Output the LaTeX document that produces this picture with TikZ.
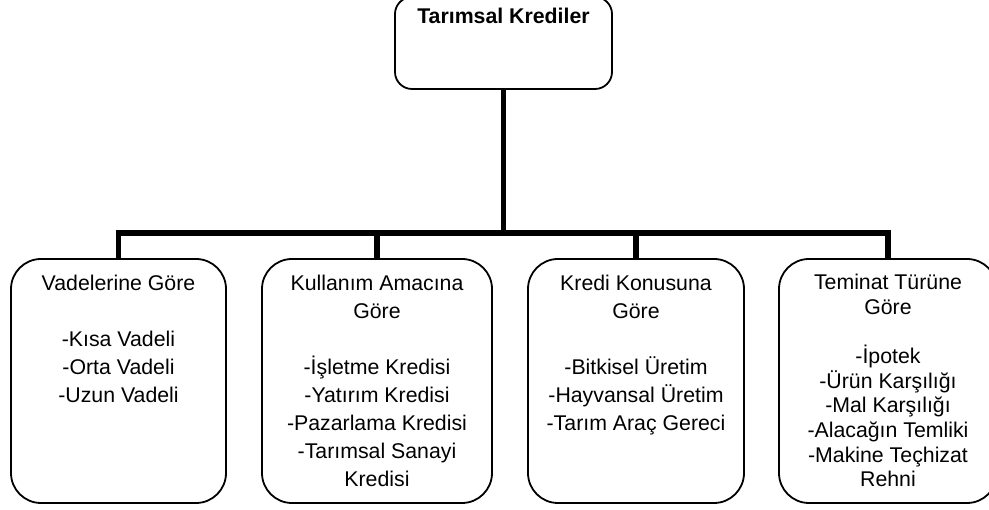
\documentclass[tikz,border=0pt]{standalone}
\usepackage{fontspec}
\setmainfont{Liberation Sans}
\newcommand{\lns}[1]{\vtop{\halign{\hfil##\hfil\cr#1\crcr}}}
\begin{document}
\begin{tikzpicture}[x=1pt,y=-1pt,
  box/.style={draw, line width=1.8pt, rounded corners=30pt, inner sep=0pt, fill=white},
  topbox/.style={box, rounded corners=17pt},
  conn/.style={line width=5.5pt},
  txt/.style={anchor=base, inner sep=0pt, font=\fontsize{21.3}{28}\selectfont},
  txtb/.style={txt, font=\fontsize{21.3}{24.6}\selectfont}]
\useasboundingbox (0,0) rectangle (989,510);
\fill[white] (0,0) rectangle (989,510);
\begin{scope}
\clip (0,0) rectangle (989,510);
\node[topbox, minimum width=217pt, minimum height=92pt] (top) at (503.5,43) {};
\node[box, minimum width=215pt, minimum height=244pt] (b1) at (118.5,381) {};
\node[box, minimum width=230pt, minimum height=244pt] (b2) at (377,381) {};
\node[box, minimum width=216pt, minimum height=244pt] (b3) at (636,381) {};
\node[box, minimum width=218pt, minimum height=244pt] (b4) at (888,381) {};
\coordinate (bar) at (504,233);
\draw[conn] (top.south) -- (top.south |- bar);
\draw[conn] (b1.north) |- (b4.north |- bar) -- (b4.north);
\draw[conn] (b2.north) -- (b2.north |- bar);
\draw[conn] (b3.north) -- (b3.north |- bar);
\node[txt] (t0) at (503.5,24) {\textbf{Tarımsal Krediler}};
\node[txt] (t1) at (118.5,291) {\lns{Vadelerine Göre\cr\cr-Kısa Vadeli\cr-Orta Vadeli\cr-Uzun Vadeli}};
\node[txt] (t2) at (377,291) {\lns{Kullanım Amacına\cr Göre\cr\cr-İşletme Kredisi\cr-Yatırım Kredisi\cr-Pazarlama Kredisi\cr-Tarımsal Sanayi\cr Kredisi}};
\node[txt] (t3) at (636,291) {\lns{Kredi Konusuna\cr Göre\cr\cr-Bitkisel Üretim\cr-Hayvansal Üretim\cr-Tarım Araç Gereci}};
\node[txtb] (t4) at (888,290) {\lns{Teminat Türüne\cr Göre\cr\cr-İpotek\cr-Ürün Karşılığı\cr-Mal Karşılığı\cr-Alacağın Temliki\cr-Makine Teçhizat\cr Rehni}};
\end{scope}
\end{tikzpicture}
\end{document}
